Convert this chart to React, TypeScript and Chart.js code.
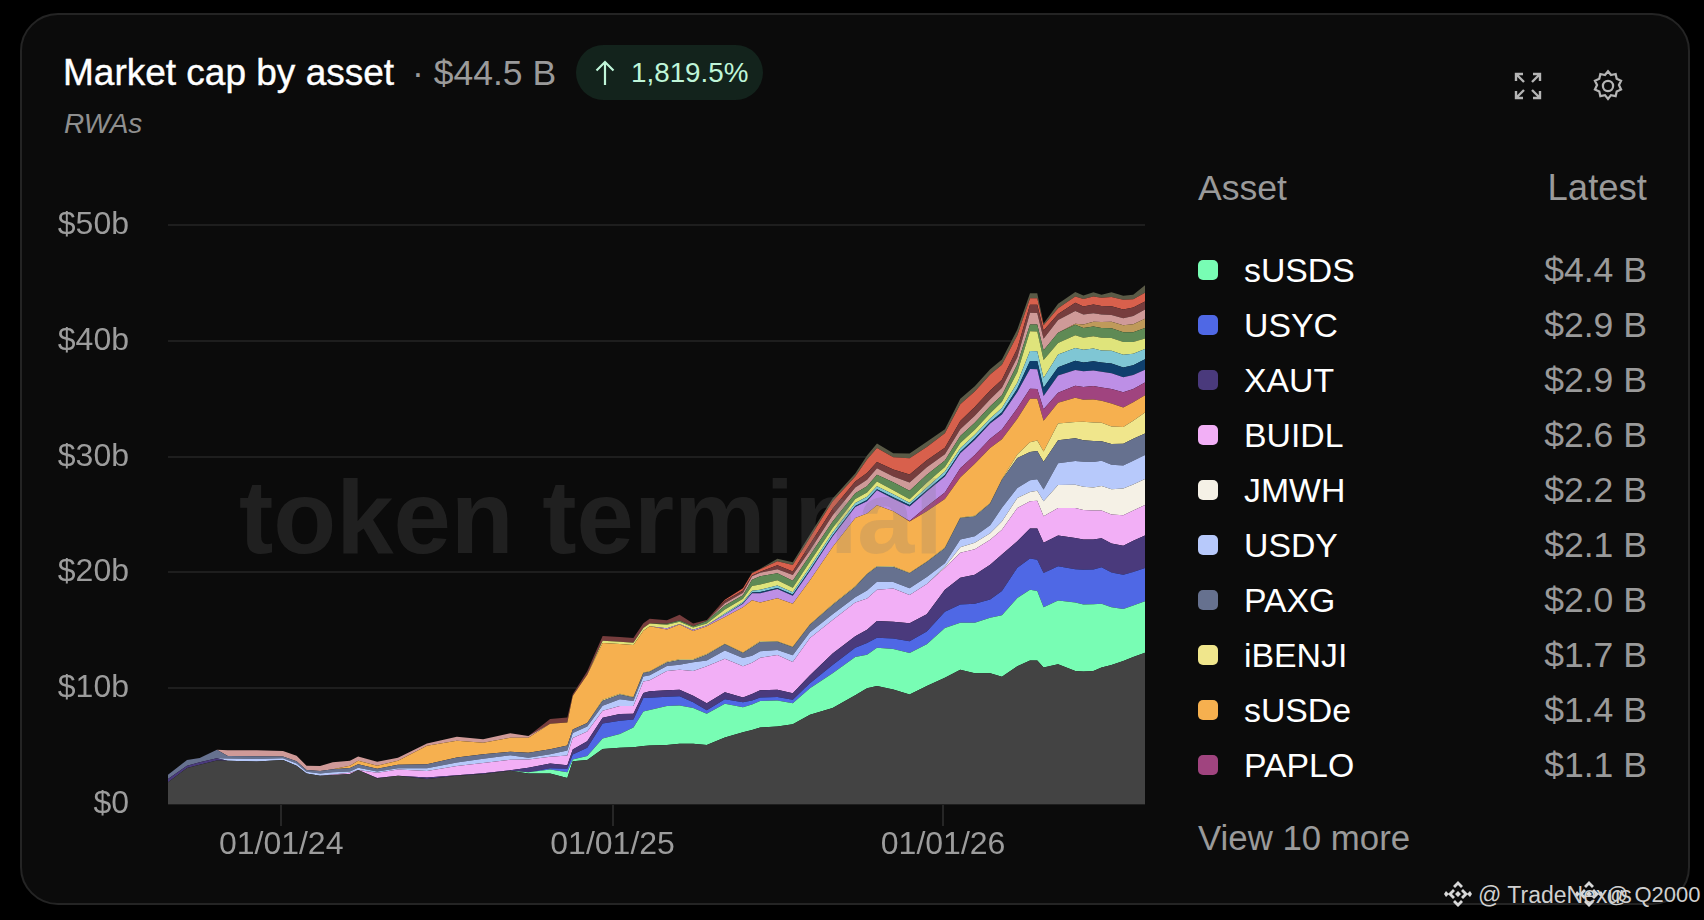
import React, { useEffect, useRef } from "react";
import { Chart, registerables } from "chart.js";

Chart.register(...registerables);

const days = [
  0, 21, 35, 54, 66, 98, 127, 142, 153, 168,
  182, 201, 210, 231, 254, 286, 319, 348, 378, 398,
  422, 441, 447, 463, 480, 499, 514, 525, 532, 551,
  565, 580, 595, 615, 635, 645, 654, 673, 690, 709,
  734, 759, 772, 783, 801, 819, 838, 858, 875, 891,
  908, 921, 938, 952, 960, 967, 983, 1002, 1011, 1022,
  1031, 1042, 1055, 1066, 1079,
];

const other = [
  1.87, 3.1, 3.4, 3.75, 3.74, 3.68, 3.8, 3.3, 2.64, 2.44,
  2.5, 2.6, 2.93, 2.2, 2.44, 2.15, 2.44, 2.6, 2.87, 2.64,
  2.64, 2.24, 3.7, 3.8, 4.75, 4.85, 4.9, 5.0, 5.05, 5.1,
  5.2, 5.2, 5.1, 5.75, 6.2, 6.4, 6.6, 6.7, 6.9, 7.7,
  8.3, 9.4, 10, 10.2, 9.9, 9.45, 10.2, 10.9, 11.6, 11.3,
  11.3, 11, 11.9, 12.4, 12.4, 11.8, 12.07, 11.5, 11.44, 11.5,
  11.8, 12, 12.35, 12.7, 13.07,
];
const sUSDS = [
  0, 0, 0, 0, 0, 0, 0, 0, 0, 0,
  0, 0, 0, 0, 0, 0, 0, 0, 0, 0.1,
  0.35, 0.5, 0.15, 0.35, 0.9, 1.2, 1.7, 3.0, 3.07, 3.36,
  3.3, 3.1, 2.7, 2.9, 2.15, 2.2, 2.3, 2.24, 1.8, 2.3,
  3.0, 3.3, 2.9, 3.3, 3.5, 3.6, 3.6, 4.3, 4.06, 4.36,
  4.8, 5.3, 5.9, 6.1, 6.0, 5.2, 5.5, 5.9, 5.8, 5.75,
  5.5, 5.0, 4.5, 4.45, 4.45,
];
const USYC = [
  0, 0, 0, 0, 0, 0, 0, 0, 0, 0,
  0, 0, 0, 0, 0, 0, 0, 0, 0, 0,
  0.1, 0.3, 0.43, 0.7, 1.3, 1.15, 0.7, 1.15, 1.05, 0.8,
  0.8, 0.5, 0.3, 0.4, 0.43, 0.35, 0.3, 0.3, 0.3, 0.43,
  0.7, 0.8, 1.0, 0.86, 0.9, 1.0, 1.1, 1.4, 1.58, 1.64,
  1.57, 2.1, 2.6, 2.7, 2.7, 2.96, 2.96, 2.87, 3.0, 3.0,
  3.16, 3.0, 2.96, 2.9, 2.87,
];
const XAUT = [
  0.3, 0.2, 0.2, 0.2, 0, 0, 0, 0, 0, 0,
  0, 0, 0, 0.05, 0, 0.15, 0.05, 0.05, 0.05, 0.4,
  0.4, 0.3, 0.43, 0.57, 0.5, 0.57, 0.5, 0.43, 0.57, 0.57,
  0.57, 0.55, 0.6, 0.6, 0.43, 0.55, 0.63, 0.63, 0.57, 0.7,
  1.0, 1.0, 1.15, 1.44, 1.44, 1.57, 1.5, 1.9, 2.3, 2.5,
  3.0, 3.15, 2.3, 2.6, 2.7, 2.6, 2.67, 2.7, 2.6, 2.6,
  2.5, 2.5, 2.5, 2.7, 2.8,
];
const BUIDL = [
  0, 0, 0, 0, 0, 0, 0, 0, 0, 0,
  0.05, 0.1, 0, 0.45, 0.55, 0.55, 0.8, 0.9, 0.9, 0.7,
  0.6, 0.85, 1.0, 0.85, 0.6, 0.7, 0.66, 1.0, 0.95, 1.67,
  1.72, 2.15, 3.2, 2.9, 2.7, 2.7, 2.8, 3.0, 2.7, 3.2,
  2.9, 2.9, 2.7, 2.7, 2.87, 2.44, 2.6, 1.9, 2.16, 2.2,
  2.15, 2.15, 2.87, 2.36, 2.4, 2.3, 2.36, 2.6, 2.56, 2.5,
  2.4, 2.5, 2.64, 2.6, 2.64,
];
const JMWH = [
  0, 0, 0, 0, 0, 0, 0, 0, 0, 0,
  0, 0, 0, 0, 0, 0, 0, 0, 0, 0,
  0, 0, 0, 0, 0, 0, 0, 0, 0, 0,
  0, 0, 0, 0, 0, 0, 0, 0, 0, 0,
  0, 0, 0, 0, 0, 0, 0, 0.1, 0.48, 0.57,
  0.57, 0.7, 0.86, 0.8, 0.85, 1.3, 2.0, 2.0, 2.0, 2.0,
  2.1, 2.2, 2.3, 2.25, 2.24,
];
const USDY = [
  0, 0, 0, 0, 0.2, 0.2, 0.15, 0.2, 0.15, 0.2,
  0.2, 0.1, 0.2, 0.1, 0.1, 0.23, 0.3, 0.35, 0.4, 0.15,
  0.2, 0.43, 0.43, 0.43, 0.43, 0.57, 0.43, 0.43, 0.43, 0.43,
  0.43, 0.75, 0.5, 0.7, 0.7, 0.6, 0.57, 0.43, 0.57, 0.5,
  0.5, 0.45, 0.7, 0.7, 0.57, 0.57, 0.6, 0.3, 0.66, 0.57,
  0.7, 1.2, 0.86, 1.0, 1.0, 1.0, 1.87, 2.07, 2.16, 2.2,
  2.2, 2.1, 2.0, 2.05, 2.07,
];
const PAXG = [
  0.36, 0.5, 0.37, 0.73, 0.2, 0.25, 0.15, 0.2, 0.15, 0.2,
  0.25, 0.3, 0.3, 0.25, 0.3, 0.35, 0.43, 0.4, 0.3, 0.43,
  0.45, 0.43, 0.3, 0.3, 0.43, 0.43, 0.3, 0.3, 0.3, 0.3,
  0.43, 0.2, 0.5, 0.55, 0.43, 0.75, 0.8, 0.72, 0.7, 0.65,
  0.8, 0.9, 1.4, 1.3, 1.3, 1.3, 1.3, 1.3, 1.87, 1.7,
  1.87, 2.4, 2.6, 2.45, 2.45, 2.4, 2.0, 1.95, 1.87, 1.8,
  1.67, 1.8, 1.87, 1.9, 1.87,
];
const iBENJI = [
  0, 0, 0, 0, 0, 0, 0, 0, 0, 0,
  0, 0, 0, 0, 0, 0, 0, 0, 0, 0,
  0, 0, 0, 0, 0.1, 0.05, 0.05, 0.05, 0.05, 0.05,
  0.05, 0.05, 0.05, 0.05, 0.05, 0.05, 0.05, 0.05, 0.05, 0.05,
  0.05, 0.05, 0.05, 0.05, 0.05, 0.05, 0.05, 0.05, 0.05, 0.05,
  0.05, 0.05, 0.3, 0.85, 0.9, 0.9, 1.44, 1.4, 1.6, 1.6,
  1.6, 1.5, 1.44, 1.55, 1.8,
];
const sUSDe = [
  0, 0, 0, 0, 0, 0, 0, 0, 0, 0,
  0, 0.2, 0.3, 0.25, 0.35, 1.6, 1.44, 1.0, 1.2, 1.3,
  2.2, 2.0, 2.9, 4.17, 4.9, 4.3, 4.5, 3.6, 3.88, 2.8,
  3.0, 2.45, 2.4, 2.3, 3.9, 4.0, 3.36, 3.7, 3.7, 3.8,
  4.95, 5.9, 5.2, 5.25, 4.75, 4.42, 4.35, 4.2, 3.45, 4.5,
  4.75, 3.45, 3.1, 3.75, 3.6, 2.64, 1.8, 2.1, 1.9, 2.0,
  1.9, 2.0, 1.7, 1.6, 1.5,
];
const PAPLO = [
  0, 0, 0, 0, 0, 0, 0, 0, 0, 0,
  0, 0, 0, 0, 0, 0, 0, 0, 0, 0,
  0, 0, 0, 0, 0, 0, 0, 0, 0, 0,
  0, 0, 0, 0, 0, 0, 0, 0, 0, 0,
  0, 0, 0, 0, 0, 0.05, 0.4, 0.55, 0.8, 0.75,
  0.8, 0.85, 0.9, 0.86, 0.86, 1.0, 0.85, 1.05, 1.1, 1.15,
  1.15, 1.25, 1.3, 1.15, 1.1,
];
const lavender = [
  0, 0, 0, 0, 0, 0, 0, 0, 0, 0,
  0, 0, 0, 0, 0, 0, 0, 0, 0, 0,
  0, 0, 0, 0, 0, 0, 0, 0, 0, 0.1,
  0.05, 0.1, 0.1, 0.2, 0.3, 0.6, 0.8, 0.8, 0.7, 0.8,
  0.9, 0.95, 1.05, 1.3, 1.1, 1.25, 1.3, 1.4, 1.3, 1.3,
  1.3, 1.3, 1.4, 1.7, 1.7, 1.15, 1.5, 1.35, 1.35, 1.35,
  1.35, 1.35, 1.3, 1.2, 1.1,
];
const navy = [
  0, 0, 0, 0, 0, 0, 0, 0, 0, 0,
  0, 0, 0, 0, 0, 0, 0, 0, 0, 0,
  0, 0, 0, 0, 0, 0, 0, 0, 0, 0,
  0, 0, 0, 0, 0.05, 0.08, 0.1, 0.1, 0.1, 0.1,
  0.1, 0.1, 0.12, 0.1, 0.12, 0.12, 0.1, 0.12, 0.12, 0.15,
  0.15, 0.2, 0.3, 0.7, 0.7, 0.7, 0.7, 0.8, 0.75, 0.8,
  0.8, 0.85, 0.85, 0.85, 0.9,
];
const teal = [
  0, 0, 0, 0, 0, 0, 0, 0, 0, 0,
  0, 0, 0, 0, 0, 0, 0, 0, 0, 0,
  0, 0, 0, 0, 0, 0, 0, 0, 0, 0,
  0, 0, 0, 0.1, 0.1, 0.15, 0.2, 0.2, 0.2, 0.25,
  0.25, 0.25, 0.28, 0.25, 0.25, 0.2, 0.25, 0.3, 0.3, 0.3,
  0.3, 0.35, 0.5, 0.86, 0.86, 0.85, 1.1, 1.1, 1.1, 1.1,
  1.05, 1.1, 1.1, 1.0, 0.9,
];
const lime = [
  0, 0, 0, 0, 0, 0, 0, 0, 0, 0,
  0, 0, 0, 0, 0, 0, 0, 0, 0, 0,
  0, 0, 0, 0, 0.2, 0.2, 0.2, 0.25, 0.25, 0.3,
  0.2, 0.2, 0.15, 0.35, 0.3, 0.4, 0.46, 0.46, 0.4, 0.45,
  0.4, 0.35, 0.35, 0.4, 0.35, 0.3, 0.4, 0.4, 0.45, 0.45,
  0.45, 0.55, 0.9, 1.7, 1.7, 1.55, 1.0, 1.1, 1.05, 1.05,
  1.1, 1.1, 1.1, 1.0, 0.9,
];
const moss = [
  0, 0, 0, 0, 0, 0, 0, 0, 0, 0,
  0, 0, 0, 0, 0, 0, 0, 0, 0, 0,
  0, 0, 0, 0, 0, 0, 0, 0, 0, 0.1,
  0.1, 0.1, 0.2, 0.35, 0.3, 0.55, 0.7, 0.6, 0.6, 0.55,
  0.55, 0.5, 0.55, 0.6, 0.7, 0.75, 0.7, 0.55, 0.6, 0.6,
  0.6, 0.55, 0.7, 0.6, 0.6, 0.85, 0.9, 0.9, 0.85, 0.85,
  0.85, 0.85, 0.85, 0.85, 0.9,
];
const caramel = [
  0, 0, 0, 0, 0, 0, 0, 0, 0, 0,
  0, 0, 0, 0, 0, 0, 0, 0, 0, 0,
  0, 0, 0, 0, 0, 0, 0, 0, 0, 0,
  0, 0, 0, 0, 0, 0, 0, 0, 0, 0,
  0, 0, 0, 0, 0, 0, 0, 0, 0, 0,
  0, 0, 0, 0, 0, 0, 0, 0.1, 0.3, 0.4,
  0.5, 0.55, 0.6, 0.7, 0.8,
];
const rose = [
  0, 0, 0, 0, 0.5, 0.52, 0.47, 0.47, 0.36, 0.44,
  0.6, 0.44, 0.37, 0.35, 0.25, 0.2, 0.35, 0.3, 0.4, 0.15,
  0, 0, 0, 0, 0, 0, 0, 0, 0, 0,
  0, 0, 0, 0.2, 0.2, 0.3, 0.3, 0.35, 0.5, 0.45,
  0.55, 0.5, 0.55, 0.55, 0.5, 0.7, 0.65, 0.55, 0.6, 0.6,
  0.6, 0.65, 0.6, 1.0, 1.0, 1.0, 1.1, 1.1, 0.85, 0.75,
  0.65, 0.6, 0.6, 0.7, 0.8,
];
const maroon = [
  0, 0, 0, 0, 0, 0, 0, 0, 0, 0,
  0, 0, 0, 0, 0, 0, 0, 0, 0, 0,
  0.4, 0.43, 0.15, 0.3, 0.4, 0.4, 0.4, 0.4, 0.4, 0.3,
  0.5, 0.25, 0.1, 0.2, 0.2, 0.05, 0.1, 0.35, 0.3, 0.5,
  0.55, 0.5, 0.6, 0.55, 0.6, 0.7, 0.6, 0.55, 0.7, 0.75,
  0.75, 0.7, 0.75, 0.7, 0.7, 0.7, 0.5, 0.7, 0.7, 0.75,
  0.75, 0.75, 0.75, 0.75, 0.7,
];
const red = [
  0, 0, 0, 0, 0, 0, 0, 0, 0, 0,
  0, 0, 0, 0, 0, 0, 0, 0, 0, 0,
  0, 0, 0, 0, 0, 0, 0, 0, 0, 0,
  0, 0, 0, 0.1, 0.2, 0.2, 0.2, 0.35, 0.55, 0.6,
  0.65, 0.45, 1.15, 1.2, 1.05, 1.4, 1.15, 1.25, 1.45, 1.35,
  1.4, 1.3, 1.15, 0.57, 0.57, 0.45, 0.5, 0.55, 0.65, 0.7,
  0.7, 0.8, 0.85, 0.7, 0.75,
];
const olive = [
  0, 0, 0, 0, 0, 0, 0, 0, 0, 0,
  0, 0, 0, 0, 0, 0, 0, 0, 0, 0,
  0, 0, 0, 0, 0, 0, 0, 0, 0, 0,
  0, 0, 0, 0, 0, 0.05, 0.05, 0.2, 0.25, 0.25,
  0.25, 0.25, 0.35, 0.4, 0.35, 0.4, 0.45, 0.35, 0.48, 0.45,
  0.45, 0.45, 0.5, 0.43, 0.43, 0.15, 0.4, 0.4, 0.3, 0.35,
  0.27, 0.4, 0.34, 0.4, 0.65,
];

const stackSeries = [other, sUSDS, USYC, XAUT, BUIDL, JMWH, USDY, PAXG, iBENJI, sUSDe, PAPLO, lavender, navy, teal, lime, moss, caramel, rose, maroon, red, olive];
const stackNames = ["Other", "sUSDS", "USYC", "XAUT", "BUIDL", "JMWH", "USDY", "PAXG", "iBENJI", "sUSDe", "PAPLO", "Asset 11", "Asset 12", "Asset 13", "Asset 14", "Asset 15", "Asset 16", "Asset 17", "Asset 18", "Asset 19", "Asset 20"];
const stackColors = ["#434343", "#78fdb4", "#4f68e5", "#4a3a7c", "#f2aff6", "#f5f1e6", "#b7c9fb", "#66718f", "#f0e68c", "#f6b04f", "#a0447f", "#bd8fe6", "#0f3f6d", "#7fc6d4", "#dfe47b", "#5f8a55", "#bf9a5a", "#cf9a98", "#763d3d", "#d8604c", "#5a5a46"];

const tickDays = [125, 491, 856];
const tickLabels = ["01/01/24", "01/01/25", "01/01/26"];

const legendNames = ["sUSDS", "USYC", "XAUT", "BUIDL", "JMWH", "USDY", "PAXG", "iBENJI", "sUSDe", "PAPLO"];
const legendValues = ["$4.4 B", "$2.9 B", "$2.9 B", "$2.6 B", "$2.2 B", "$2.1 B", "$2.0 B", "$1.7 B", "$1.4 B", "$1.1 B"];
const legendColors = ["#78fdb4", "#4f68e5", "#4a3a7c", "#f2aff6", "#f5f1e6", "#b7c9fb", "#66718f", "#f0e68c", "#f6b04f", "#a0447f"];
const legendRows = [270, 325, 380, 435, 490, 545, 600, 655, 710, 765];

const FONT = '"Liberation Sans", Arial, sans-serif';
const abs = (o: React.CSSProperties): React.CSSProperties => ({ position: "absolute", whiteSpace: "nowrap", ...o });

function Diamond({ x, y }: { x: number; y: number }) {
  return (
    <svg style={{ position: "absolute", left: x, top: y }} width="28" height="28" viewBox="0 0 28 28" fill="#d8d8d8">
      <path d="M14 1l5 5-2 2-3-3-3 3-2-2zM14 27l5-5-2-2-3 3-3-3-2 2zM14 11l3 3-3 3-3-3zM2 11l3 3-3 3-2-3zM26 11l2 3-2 3-3-3zM9 9l2 2-3 3 3 3-2 2-5-5zM19 9l5 5-5 5-2-2 3-3-3-3z" />
    </svg>
  );
}

export default function App() {
  const ref = useRef<HTMLCanvasElement>(null);
  useEffect(() => {
    const chart = new Chart(ref.current as HTMLCanvasElement, {
      type: "line",
      data: {
        datasets: stackSeries.map((vals, i) => ({
          label: stackNames[i],
          data: vals.map((v, j) => ({ x: days[j], y: v })),
          backgroundColor: stackColors[i],
          borderWidth: 0,
          pointRadius: 0,
          tension: 0,
          fill: i === 0 ? "origin" : "-1",
        })),
      },
      options: {
        animation: false,
        responsive: false,
        devicePixelRatio: 1,
        layout: { padding: { top: 0, right: 5, bottom: 0, left: 0 } },
        plugins: { legend: { display: false }, tooltip: { enabled: false } },
        scales: {
          x: {
            type: "linear",
            min: 0,
            max: 1079,
            border: { display: false },
            grid: { drawOnChartArea: false, drawTicks: true, tickLength: 22, color: "#262626", lineWidth: 2 },
            afterBuildTicks: (s: any) => { s.ticks = tickDays.map((value) => ({ value })); },
            afterFit: (s: any) => { s.height = 70; },
            ticks: {
              autoSkip: false,
              maxRotation: 0,
              padding: 0,
              color: "#9c9c9c",
              font: { family: "Liberation Sans", size: 32 },
              callback: (v: any) => tickLabels[tickDays.indexOf(Number(v))] ?? "",
            },
          },
          y: {
            stacked: true,
            min: 0,
            max: 50,
            border: { display: false },
            afterFit: (s: any) => { s.width = 148; },
            grid: { drawTicks: false, color: "#1e1e1e", lineWidth: 2 },
            ticks: {
              stepSize: 10,
              padding: 39,
              color: "#9c9c9c",
              font: { family: "Liberation Sans", size: 32 },
              callback: (v: any) => (Number(v) === 0 ? "$0" : `$${v}b`),
            },
          },
        },
      },
    } as any);
    return () => chart.destroy();
  }, []);

  return (
    <div style={{ position: "fixed", left: 0, top: 0, width: 1704, height: 920, background: "#000", overflow: "hidden", fontFamily: FONT }}>
      <div style={{ position: "absolute", left: 20, top: 13, width: 1666, height: 888, borderRadius: 38, border: "2px solid #242424", background: "#0b0b0b" }} />
      <canvas ref={ref} width={1130} height={707} style={{ position: "absolute", left: 20, top: 167, width: 1130, height: 707 }} />
      <div style={abs({ left: 239, top: 458, fontSize: 103, lineHeight: "120px", fontWeight: 700, color: "rgba(120,120,120,0.2)" })}>token terminal</div>

      <div style={abs({ left: 63, top: 53, fontSize: 37, lineHeight: "40px", color: "#fff", WebkitTextStroke: "0.4px #fff" })}>Market cap by asset</div>
      <div style={abs({ left: 412, top: 53, fontSize: 35.5, lineHeight: "40px", color: "#9a9a9a" })}>· $44.5 B</div>
      <div style={{ position: "absolute", left: 576, top: 45, width: 187, height: 55, borderRadius: 28, background: "#13231c" }} />
      <svg style={{ position: "absolute", left: 594, top: 60 }} width="22" height="26" viewBox="0 0 22 26" fill="none" stroke="#bff5d8" strokeWidth="2.2">
        <path d="M11 25V2M2.5 10.5L11 2l8.5 8.5" />
      </svg>
      <div style={abs({ left: 631, top: 55, fontSize: 27.8, lineHeight: "36px", color: "#bff5d8" })}>1,819.5%</div>
      <div style={abs({ left: 64, top: 107, fontSize: 28, lineHeight: "34px", fontStyle: "italic", color: "#8f8f8f" })}>RWAs</div>

      <svg style={{ position: "absolute", left: 1514, top: 72 }} width="28" height="28" viewBox="0 0 28 28" fill="none" stroke="#b5b5b5" strokeWidth="2.4">
        <path d="M2 9V2h7M2 2l8 8M19 2h7v7M26 2l-8 8M2 19v7h7M2 26l8-8M19 26h7v-7M26 26l-8-8" />
      </svg>
      <svg style={{ position: "absolute", left: 1590, top: 68 }} width="36" height="36" viewBox="0 0 24 24" fill="none" stroke="#b5b5b5" strokeWidth="1.5">
        <circle cx="12" cy="12" r="3.4" />
        <path d="M12 2.2l2 2.5 3.1-.7.7 3.1 2.9 1.4-1.4 2.9 1.4 2.9-2.9 1.4-.7 3.1-3.1-.7-2 2.5-2-2.5-3.1.7-.7-3.1-2.9-1.4 1.4-2.9-1.4-2.9 2.9-1.4.7-3.1 3.1.7z" />
      </svg>

      <div style={abs({ left: 1198, top: 168, fontSize: 35.6, lineHeight: "40px", color: "#9a9a9a" })}>Asset</div>
      <div style={abs({ right: 57, top: 168, fontSize: 36.5, lineHeight: "40px", color: "#9a9a9a" })}>Latest</div>
      {legendNames.map((name, i) => (
        <React.Fragment key={name}>
          <div style={{ position: "absolute", left: 1198, top: legendRows[i] - 10, width: 20, height: 20, borderRadius: 5, background: legendColors[i] }} />
          <div style={abs({ left: 1244, top: legendRows[i] - 20, fontSize: 33.8, lineHeight: "40px", color: "#fff" })}>{name}</div>
          <div style={abs({ right: 57, top: legendRows[i] - 20, fontSize: 35.6, lineHeight: "40px", color: "#9a9a9a" })}>{legendValues[i]}</div>
        </React.Fragment>
      ))}
      <div style={abs({ left: 1198, top: 818, fontSize: 34.8, lineHeight: "40px", color: "#9a9a9a" })}>View 10 more</div>

      <Diamond x={1444} y={880} />
      <Diamond x={1575} y={880} />
      <div style={abs({ left: 1478, top: 881, fontSize: 23, lineHeight: "28px", color: "#d0d0d0" })}>@ TradeNexus</div>
      <div style={abs({ left: 1606, top: 881, fontSize: 22, lineHeight: "28px", color: "#d0d0d0" })}>@ Q2000</div>
    </div>
  );
}
